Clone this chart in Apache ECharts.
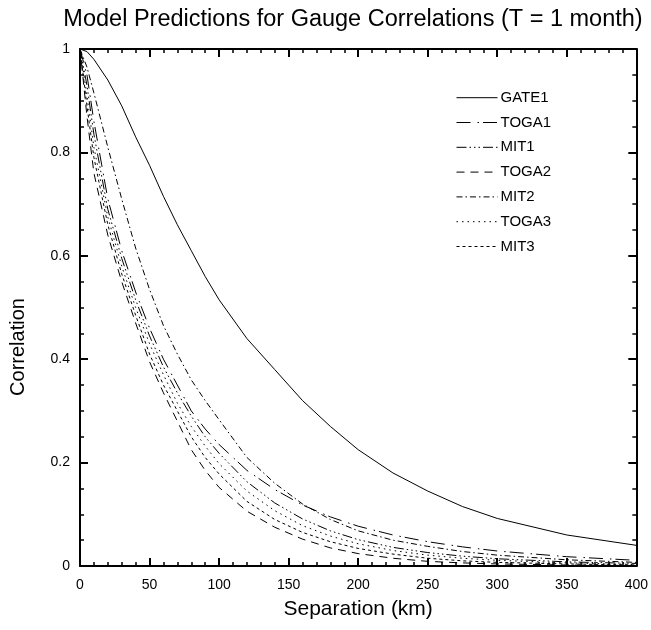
<!DOCTYPE html>
<html>
<head>
<meta charset="utf-8">
<script src="https://cdn.jsdelivr.net/npm/echarts@6/dist/echarts.min.js"></script>
<style>html,body{margin:0;padding:0;background:#fff;}#c{width:651px;height:630px;}</style>
</head>
<body>
<div id="c"></div>
<script>
const separation = [0, 5, 10, 20, 30, 40, 50, 60, 70, 80, 90, 100, 120, 140, 160, 180, 200, 225, 250, 275, 300, 350, 400];
const GATE1 = [1, 0.995, 0.98, 0.94, 0.89, 0.83, 0.775, 0.715, 0.66, 0.61, 0.56, 0.515, 0.44, 0.38, 0.32, 0.27, 0.225, 0.18, 0.145, 0.115, 0.092, 0.06, 0.04];
const TOGA1 = [1, 0.95, 0.86, 0.71, 0.61, 0.53, 0.46, 0.4, 0.35, 0.3, 0.265, 0.235, 0.185, 0.148, 0.118, 0.095, 0.077, 0.06, 0.047, 0.037, 0.029, 0.018, 0.011];
const MIT1 = [1, 0.93, 0.835, 0.69, 0.595, 0.515, 0.445, 0.385, 0.335, 0.29, 0.25, 0.218, 0.163, 0.122, 0.091, 0.068, 0.051, 0.036, 0.026, 0.019, 0.014, 0.008, 0.005];
const TOGA2 = [1, 0.87, 0.76, 0.64, 0.55, 0.47, 0.395, 0.335, 0.28, 0.225, 0.185, 0.152, 0.106, 0.075, 0.052, 0.035, 0.024, 0.015, 0.009, 0.006, 0.004, 0.002, 0.001];
const MIT2 = [1, 0.965, 0.915, 0.81, 0.71, 0.615, 0.535, 0.465, 0.41, 0.36, 0.32, 0.283, 0.21, 0.16, 0.12, 0.09, 0.068, 0.05, 0.038, 0.028, 0.021, 0.012, 0.007];
const TOGA3 = [1, 0.91, 0.81, 0.675, 0.58, 0.5, 0.43, 0.37, 0.315, 0.27, 0.232, 0.198, 0.145, 0.107, 0.078, 0.058, 0.043, 0.03, 0.021, 0.015, 0.011, 0.006, 0.003];
const MIT3 = [1, 0.89, 0.79, 0.66, 0.565, 0.485, 0.41, 0.35, 0.3, 0.25, 0.21, 0.178, 0.125, 0.09, 0.065, 0.047, 0.034, 0.023, 0.015, 0.01, 0.007, 0.004, 0.002];
const xTicks = [0, 50, 100, 150, 200, 250, 300, 350, 400];
const yTicks = [0, 0.2, 0.4, 0.6, 0.8, 1];

const names = ['GATE1', 'TOGA1', 'MIT1', 'TOGA2', 'MIT2', 'TOGA3', 'MIT3'];
const values = [GATE1, TOGA1, MIT1, TOGA2, MIT2, TOGA3, MIT3];
const dashes = ['solid', [14, 7, 1.5, 4], [10, 3, 1.5, 3, 1.5, 3, 1.5, 3], [8, 6], [6, 3, 1.5, 3], [1.5, 4], [3, 3]];

const font = 'Liberation Sans, Arial, Helvetica, sans-serif';
const chart = echarts.init(document.getElementById('c'), null, {renderer: 'canvas'});

function mkX(pos, show) {
  return {
    type: 'value', position: pos, min: xTicks[0], max: xTicks[xTicks.length - 1], interval: 50,
    name: show ? 'Separation (km)' : '', nameLocation: 'middle', nameGap: 33,
    nameTextStyle: {fontFamily: font, fontSize: 21, color: '#000'},
    axisLine: {show: true, onZero: false, lineStyle: {color: '#000', width: 2}},
    axisTick: {show: true, inside: true, length: 8, lineStyle: {color: '#000', width: 2}},
    minorTick: {show: true, splitNumber: 5, length: 4, lineStyle: {color: '#000', width: 1.5}},
    axisLabel: {show: show, fontFamily: font, fontSize: 14, color: '#000', margin: 12},
    splitLine: {show: false}
  };
}
function mkY(pos, show) {
  return {
    type: 'value', position: pos, min: yTicks[0], max: yTicks[yTicks.length - 1], interval: 0.2,
    axisLine: {show: true, onZero: false, lineStyle: {color: '#000', width: 2}},
    axisTick: {show: true, inside: true, length: 8, lineStyle: {color: '#000', width: 2}},
    minorTick: {show: true, splitNumber: 4, length: 4, lineStyle: {color: '#000', width: 1.5}},
    axisLabel: {show: show, fontFamily: font, fontSize: 14, color: '#000', margin: 10,
      formatter: v => String(+v.toFixed(1))},
    splitLine: {show: false}
  };
}

chart.setOption({
  animation: false,
  backgroundColor: '#fff',
  title: {
    text: 'Model Predictions for Gauge Correlations (T = 1 month)',
    left: 348, top: 3, textAlign: 'center',
    textStyle: {fontFamily: font, fontSize: 23.5, fontWeight: 'normal', color: '#000'}
  },
  graphic: [{
    type: 'text', x: 18, y: 347, rotation: Math.PI / 2,
    style: {text: 'Correlation', fontFamily: font, fontSize: 20, fill: '#000', align: 'center', verticalAlign: 'middle'}
  }],
  grid: {left: 80, right: 12, top: 49, bottom: 64, containLabel: false},
  legend: {
    orient: 'vertical', left: 456, top: 89.7, padding: 0, itemWidth: 41, itemHeight: 16, itemGap: 8.8,
    itemStyle: {opacity: 0, borderWidth: 0},
    lineStyle: {width: 1},
    textStyle: {fontFamily: font, fontSize: 15, lineHeight: 16, color: '#000', padding: [0, 0, 0, -2]},
    data: names
  },
  xAxis: [mkX('bottom', true), mkX('top', false)],
  yAxis: [mkY('left', true), mkY('right', false)],
  series: names.map((n, i) => ({
    name: n, type: 'line', xAxisIndex: 0, yAxisIndex: 0,
    data: separation.map((x, j) => [x, values[i][j]]),
    showSymbol: false, symbol: 'none',
    lineStyle: {color: '#000', width: 1, type: dashes[i]},
    itemStyle: {color: '#000'}
  }))
});
</script>
</body>
</html>
